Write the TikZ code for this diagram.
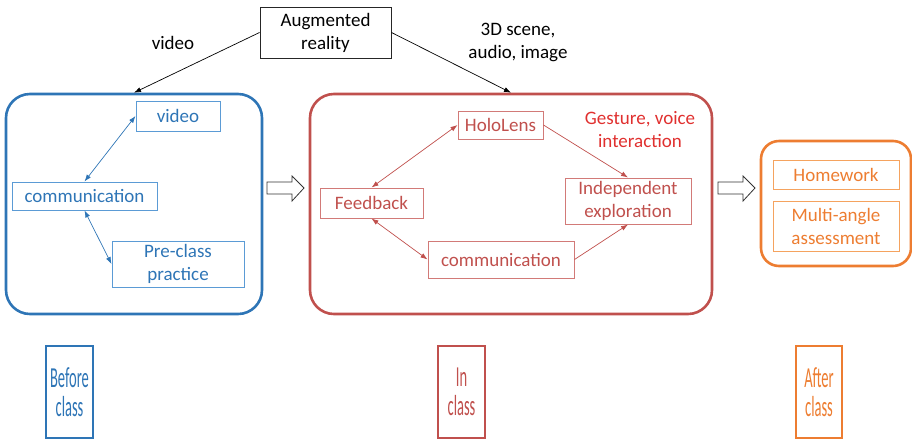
\documentclass[tikz,border=0pt]{standalone}
\usepackage{fontspec}
\setmainfont{Carlito}
\newfontfamily\condensed[FakeStretch=0.50]{Carlito}
\usetikzlibrary{arrows.meta}
\definecolor{bblue}{HTML}{2E75B6}
\definecolor{lblue}{HTML}{5B9BD5}
\definecolor{rred}{HTML}{C0504D}
\definecolor{lred}{HTML}{D27A78}
\definecolor{gred}{HTML}{E0302F}
\definecolor{oorange}{HTML}{ED7D31}
\definecolor{lorange}{HTML}{F5A35F}
\tikzset{
  box/.style={draw, line width=1pt, inner sep=0pt, align=center},
  outer/.style={draw, line width=2.6pt, rounded corners=24pt, inner sep=0pt},
  lbl/.style={align=center, inner sep=0pt},
  conn/.style={line width=0.7pt, -{Latex[length=7pt,width=5pt]}},
  dconn/.style={line width=0.7pt, {Latex[length=7pt,width=5pt]}-{Latex[length=7pt,width=5pt]}},
  hollowarrow/.style={draw=black!80, line width=0.8pt, fill=white, line join=miter},
  phase/.style={draw, line width=1.2pt, inner sep=0pt, align=center, minimum height=92pt, font=\condensed\fontsize{29}{29}\selectfont}
}
\begin{document}
\begin{tikzpicture}[x=1pt,y=-1pt, font=\fontsize{19}{23}\selectfont]
\useasboundingbox (0,0) rectangle (912,440);

% top
\node[box, draw=black!85, minimum width=131pt, minimum height=51pt] (ar) at (325.5,32.5) {Augmented\\reality};
\node[lbl] (lv) at (173,43) {video};
\node[lbl] (l3d) at (518,42) {3D scene,\\audio, image};

% outer boxes
\node[outer, draw=bblue, minimum width=256pt, minimum height=220pt] (before) at (134,204) {};
\node[outer, draw=rred, minimum width=402pt, minimum height=220pt] (inclass) at (511,204) {};
\node[outer, draw=oorange, rounded corners=18pt, minimum width=150pt, minimum height=125pt] (after) at (836,203.5) {};

\draw[conn, black] (ar.west) -- (before.north);
\draw[conn, black] (ar.east) -- (inclass.north);

% before class
\node[box, draw=lblue, text=bblue, minimum width=84pt, minimum height=30pt] (video) at (178,116) {video};
\node[box, draw=lblue, text=bblue, minimum width=145pt, minimum height=28pt] (comm) at (84.5,196) {communication};
\node[box, draw=lblue, text=bblue, minimum width=132pt, minimum height=46pt] (pre) at (178,264) {Pre-class\\practice};
\draw[dconn, bblue] (video.west) -- (comm.north);
\draw[dconn, bblue] (comm.south) -- (pre.west);

% in class
\node[box, draw=lred, text=rred, minimum width=85pt, minimum height=28pt] (holo) at (500.5,125) {HoloLens};
\node[box, draw=lred, text=rred, minimum width=103pt, minimum height=30pt] (feed) at (371.5,203) {Feedback};
\node[box, draw=lred, text=rred, minimum width=126pt, minimum height=46pt] (indep) at (628,201) {Independent\\exploration};
\node[box, draw=lred, text=rred, minimum width=146pt, minimum height=37pt] (comm2) at (501,259.5) {communication};
\node[lbl, text=gred] (gest) at (640,130) {Gesture, voice\\interaction};
\draw[dconn, rred] (holo.west) -- (feed.north);
\draw[dconn, rred] (feed.south) -- (comm2.west);
\draw[conn, rred] (holo.east) -- (indep.north);
\draw[conn, rred] (comm2.east) -- (indep.south);

% after class
\node[box, draw=lorange, text=oorange, minimum width=126pt, minimum height=29pt] (hw) at (836,174.5) {Homework};
\node[box, draw=lorange, text=oorange, minimum width=126pt, minimum height=50pt] (multi) at (836,226) {Multi-angle\\assessment};

% hollow arrows
\coordinate (h1) at (267,188);
\coordinate (h2) at (718,188);
\draw[hollowarrow, shift={(h1)}] (0,-6) -- (25,-6) -- (25,-12) -- (37,0) -- (25,13) -- (25,6) -- (0,6) -- cycle;
\draw[hollowarrow, shift={(h2)}] (0,-6) -- (25,-6) -- (25,-12) -- (37,0) -- (25,13) -- (25,6) -- (0,6) -- cycle;

% phases
\node[phase, draw=bblue, text=bblue, minimum width=47pt] (p1) at (69.5,392) {Before\\class};
\node[phase, draw=rred, text=rred, minimum width=47pt] (p2) at (461.5,392) {In\\class};
\node[phase, draw=oorange, text=oorange, minimum width=46pt] (p3) at (819,392) {After\\class};
\end{tikzpicture}
\end{document}
